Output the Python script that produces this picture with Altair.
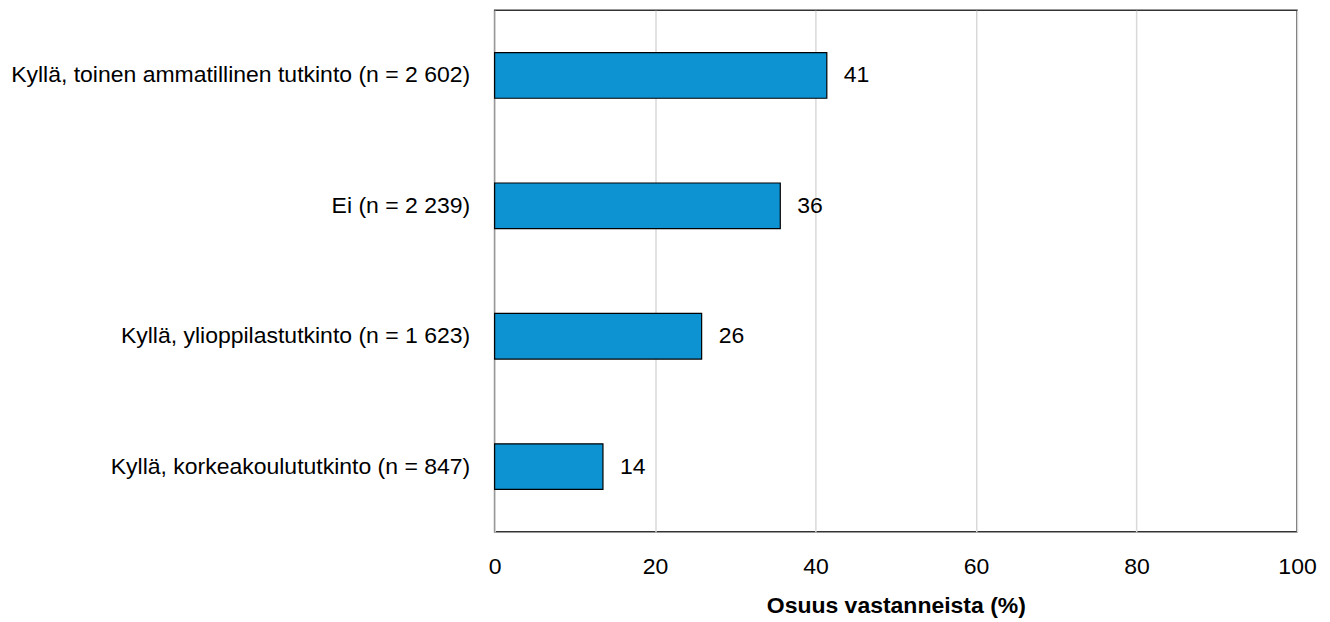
import altair as alt
import pandas as pd

categories = [
    "Kyllä, toinen ammatillinen tutkinto (n = 2 602)",
    "Ei (n = 2 239)",
    "Kyllä, ylioppilastutkinto (n = 1 623)",
    "Kyllä, korkeakoulututkinto (n = 847)",
]
values = [41.4, 35.6, 25.8, 13.5]
labels = ["41", "36", "26", "14"]

df = pd.DataFrame({"cat": categories, "val": values, "lab": labels})

FONT = "Liberation Sans Narrow, Liberation Sans, Arial"

base = alt.Chart(df).encode(
    y=alt.Y("cat:N", sort=categories, title=None,
            scale=alt.Scale(paddingInner=0.65, paddingOuter=0.325),
            axis=alt.Axis(ticks=False, labelPadding=25, labelFontSize=23,
                          labelFont=FONT, labelColor="#000", domain=False,
                          labelLimit=600)),
)

bars = base.mark_bar(color="#0E93D2", stroke="#000", strokeWidth=1.2).encode(
    x=alt.X("val:Q", scale=alt.Scale(domain=[0, 100]),
            title="Osuus vastanneista (%)",
            axis=alt.Axis(values=[0, 20, 40, 60, 80, 100], ticks=False,
                          labelFlush=False,
                          labelPadding=24, labelFontSize=23, labelFont=FONT,
                          labelColor="#000", titleFont=FONT, titleFontSize=23,
                          titleFontWeight="bold", titleColor="#000",
                          titlePadding=16, domain=False,
                          gridColor="#d9d9d9", gridWidth=1.5)),
)

text = base.mark_text(align="left", dx=17, fontSize=23, font=FONT, color="#000").encode(
    x="val:Q", text="lab:N"
)

chart = (bars + text).properties(
    width=803, height=522,
    padding={"left": 2, "top": 2, "right": 5, "bottom": 2},
).configure_view(stroke="#333", strokeWidth=1.5).configure_axisY(grid=False)

chart.save("out.html", embed_options={"renderer": "svg", "actions": False})
